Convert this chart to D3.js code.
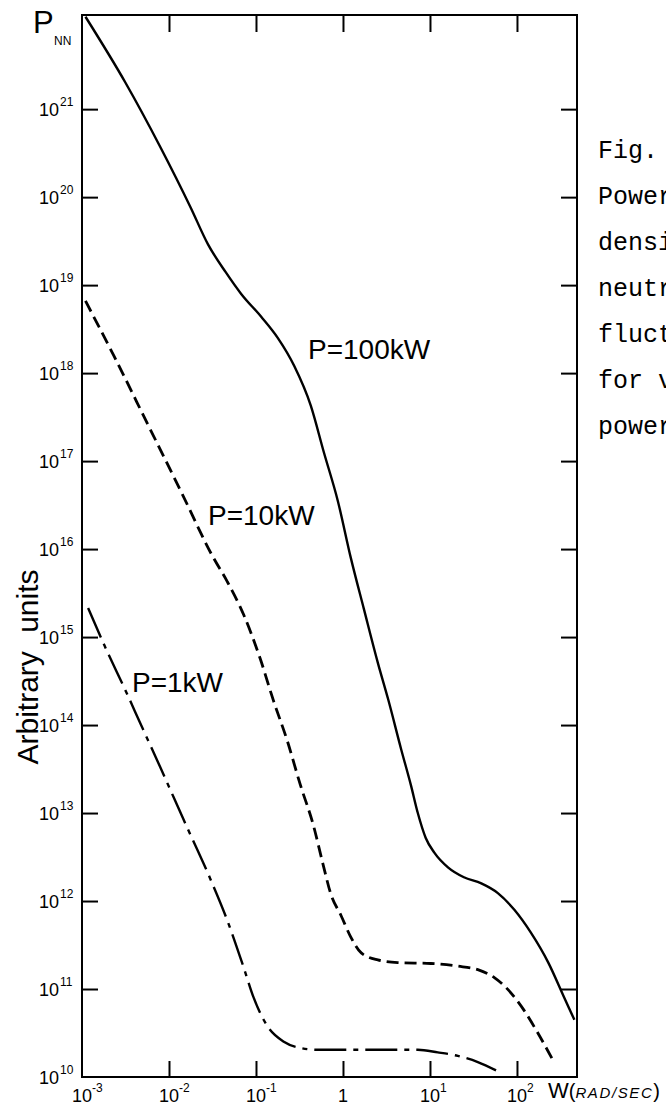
<!DOCTYPE html>
<html>
<head>
<meta charset="utf-8">
<script src="https://cdn.jsdelivr.net/npm/d3@7"></script>
<style>
  html, body { margin: 0; padding: 0; background: #fff; }
  svg { display: block; }
</style>
</head>
<body>
<svg id="chart" width="666" height="1113"></svg>
<script>
// ---- data (log10 of omega in rad/s, log10 of P_NN in arbitrary units) ----
const logW100 = [-2.96, -2.5, -2.1, -1.75, -1.55, -1.35, -1.17, -0.94, -0.75, -0.56, -0.37, -0.22, -0.06, 0.09, 0.24, 0.40, 0.52, 0.67, 0.78, 0.86, 0.95, 1.05, 1.21, 1.39, 1.59, 1.78, 1.97, 2.16, 2.36, 2.54, 2.66];
const logP100 = [22.05, 21.30, 20.57, 19.88, 19.46, 19.15, 18.90, 18.64, 18.40, 18.08, 17.63, 17.10, 16.55, 15.90, 15.32, 14.71, 14.29, 13.72, 13.32, 13.00, 12.72, 12.55, 12.38, 12.27, 12.20, 12.09, 11.90, 11.64, 11.30, 10.91, 10.65];

const logW10 = [-2.96, -2.63, -2.24, -1.85, -1.50, -1.33, -1.14, -0.95, -0.80, -0.64, -0.49, -0.34, -0.23, -0.14, -0.02, 0.09, 0.21, 0.40, 0.63, 1.01, 1.32, 1.55, 1.74, 1.90, 2.08, 2.24, 2.43];
const logP10 = [18.82, 18.19, 17.41, 16.63, 15.92, 15.63, 15.25, 14.75, 14.28, 13.82, 13.32, 12.86, 12.42, 12.08, 11.83, 11.59, 11.41, 11.33, 11.30, 11.29, 11.26, 11.22, 11.13, 10.99, 10.76, 10.50, 10.16];

const logW1 = [-2.93, -2.74, -2.48, -2.33, -2.10, -1.83, -1.52, -1.33, -1.14, -1.03, -0.87, -0.68, -0.49, -0.30, 0.29, 0.86, 1.09, 1.32, 1.55, 1.77];
const logP1 = [15.33, 14.90, 14.35, 14.02, 13.52, 12.92, 12.24, 11.78, 11.24, 10.91, 10.58, 10.40, 10.33, 10.31, 10.31, 10.31, 10.28, 10.24, 10.17, 10.07];

const seriesNames = ["P=100kW", "P=10kW", "P=1kW"];
const xTickExps = [-3, -2, -1, 0, 1, 2];
const yTickExps = [10, 11, 12, 13, 14, 15, 16, 17, 18, 19, 20, 21];
const captionLines = ["Fig.", "Power", "density", "neutron", "fluctuations", "for various", "power"];

// ---- layout ----
const L = 82, R = 577, T = 15, B = 1077;
const svg = d3.select("#chart");
const x = d3.scaleLog().domain([1e-3, Math.pow(10, 2.69)]).range([L, R]);
const y = d3.scaleLog().domain([1e10, Math.pow(10, 22.07)]).range([B, T]);
const FONT = "'Liberation Sans', Arial, sans-serif";

// ---- curves ----
const line = d3.line().x(d => x(d[0])).y(d => y(d[1])).curve(d3.curveMonotoneX);
function pts(lw, lp) { return lw.map((v, i) => [Math.pow(10, v), Math.pow(10, lp[i])]); }
const series = [
  { name: seriesNames[0], data: pts(logW100, logP100), dash: null, w: 2.4 },
  { name: seriesNames[1], data: pts(logW10, logP10), dash: "12,6", w: 2.8 },
  { name: seriesNames[2], data: pts(logW1, logP1), dash: "32,7,5,7", w: 2.4 }
];
svg.append("g").selectAll("path").data(series).join("path")
  .attr("d", d => line(d.data))
  .attr("fill", "none").attr("stroke", "#000")
  .attr("stroke-width", d => d.w)
  .attr("stroke-dasharray", d => d.dash)
  .attr("stroke-linejoin", "round");

// ---- frame + ticks ----
svg.append("rect").attr("x", L).attr("y", T).attr("width", R - L).attr("height", B - T)
  .attr("fill", "none").attr("stroke", "#000").attr("stroke-width", 2);

const innerX = xTickExps.slice(1).map(e => Math.pow(10, e));
const innerY = yTickExps.slice(1).map(e => Math.pow(10, e));
function styleAxis(g) {
  g.select(".domain").remove();
  g.selectAll(".tick line").attr("stroke", "#000").attr("stroke-width", 2);
  g.selectAll(".tick text").remove();
}
svg.append("g").attr("transform", `translate(0,${B})`)
  .call(d3.axisBottom(x).tickValues(innerX).tickSize(-16).tickFormat("")).call(styleAxis);
svg.append("g").attr("transform", `translate(0,${T})`)
  .call(d3.axisTop(x).tickValues(innerX).tickSize(-17).tickFormat("")).call(styleAxis);
svg.append("g").attr("transform", `translate(${L},0)`)
  .call(d3.axisLeft(y).tickValues(innerY).tickSize(-16).tickFormat("")).call(styleAxis);
svg.append("g").attr("transform", `translate(${R},0)`)
  .call(d3.axisRight(y).tickValues(innerY).tickSize(-16).tickFormat("")).call(styleAxis);

// ---- y tick labels ----
const yl = svg.append("g").attr("font-family", FONT).attr("fill", "#000");
yTickExps.forEach(e => {
  const yy = y(Math.pow(10, e)) + 7;
  yl.append("text").attr("x", 59).attr("y", yy).attr("text-anchor", "end")
    .attr("font-size", 18).text("10");
  yl.append("text").attr("x", 60).attr("y", yy - 10).attr("font-size", 12).text(String(e));
});

// ---- x tick labels ----
const xl = svg.append("g").attr("font-family", FONT).attr("fill", "#000");
xTickExps.forEach(e => {
  const xx = x(Math.pow(10, e));
  if (e === 0) {
    xl.append("text").attr("x", xx).attr("y", 1102).attr("text-anchor", "middle")
      .attr("font-size", 18).text("1");
  } else {
    xl.append("text").attr("x", xx).attr("y", 1102).attr("text-anchor", "middle")
      .attr("font-size", 18).text("10");
    xl.append("text").attr("x", xx + 10).attr("y", 1092).attr("font-size", 12)
      .text(e < 0 ? "-" + Math.abs(e) : String(e));
  }
});
// x axis title
const wt = xl.append("text").attr("x", 548).attr("y", 1098).attr("font-family", FONT);
wt.append("tspan").attr("font-size", 22).text("W");
wt.append("tspan").attr("font-size", 20).text("(");
wt.append("tspan").attr("font-size", 15).attr("font-style", "italic").attr("letter-spacing", 1.6).text("RAD/SEC");
wt.append("tspan").attr("font-size", 20).text(")");

// ---- y axis title ----
svg.append("text").attr("font-family", FONT).attr("font-size", 30)
  .attr("transform", "translate(38,667) rotate(-90)").attr("text-anchor", "middle")
  .attr("word-spacing", 10).text("Arbitrary units");

svg.append("text").attr("x", 33).attr("y", 33).attr("font-family", FONT)
  .attr("font-size", 31).text("P");
svg.append("text").attr("x", 54).attr("y", 45).attr("font-family", FONT)
  .attr("font-size", 12).text("NN");

// ---- curve labels ----
const labelPos = [[308, 359], [208, 525], [132, 692]];
svg.append("g").attr("font-family", FONT).attr("font-size", 28)
  .selectAll("text").data(series).join("text")
  .attr("x", (d, i) => labelPos[i][0]).attr("y", (d, i) => labelPos[i][1])
  .text(d => d.name);

// ---- caption (cut by the page edge, as in the reference) ----
svg.append("g").attr("font-family", "'Liberation Mono', 'Courier New', monospace").attr("font-size", 25)
  .selectAll("text").data(captionLines).join("text")
  .attr("x", 598).attr("y", (d, i) => 158 + i * 46)
  .text(d => d);
</script>
</body>
</html>
